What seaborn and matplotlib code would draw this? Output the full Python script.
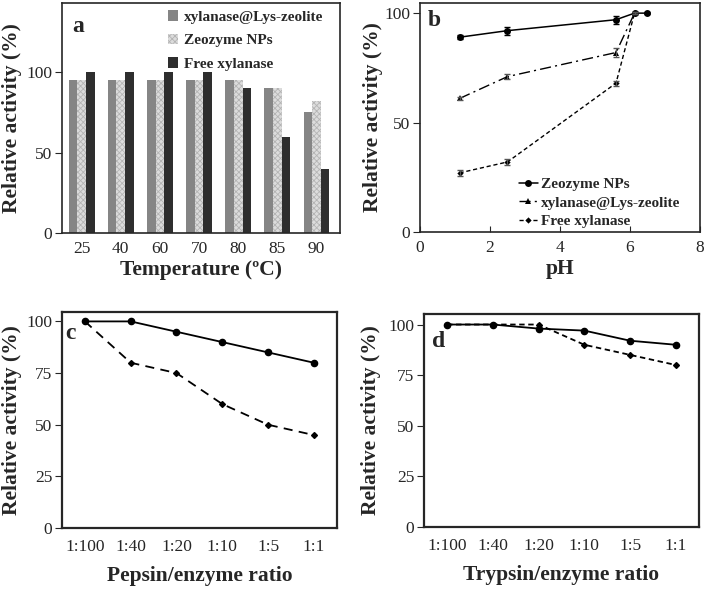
import numpy as np
import pandas as pd
import matplotlib
matplotlib.use("Agg")
import matplotlib.pyplot as plt
import seaborn as sns

# --- datos panel a (temperatura) ---
temps = ["25", "40", "60", "70", "80", "85", "90"]
lys_a = [95, 95, 95, 95, 95, 90, 75]
zeo_a = [95, 95, 95, 95, 95, 90, 82]
free_a = [100, 100, 100, 100, 90, 60, 40]
series_a = ["xylanase@Lys-zeolite", "Zeozyme NPs", "Free xylanase"]

# --- datos panel b (pH) ---
ph_zeo = [1.13, 2.5, 5.6, 6.13, 6.5]
zeo_b = [89, 92, 97, 100, 100]
zeo_b_err = [0.8, 1.8, 1.8, 0.5, 0.5]
ph_lys = [1.13, 2.5, 5.6, 6.13]
lys_b = [61, 71, 82, 100]
lys_b_err = [0.8, 1.0, 2.0, 0.5]
ph_free = [1.13, 2.5, 5.6, 6.13]
free_b = [27, 32, 68, 100]
free_b_err = [1.5, 1.5, 1.2, 0.5]

# --- datos paneles c y d ---
ratios = ["1:100", "1:40", "1:20", "1:10", "1:5", "1:1"]
pep_solid = [100, 100, 95, 90, 85, 80]
pep_dash = [100, 80, 75, 60, 50, 45]
tryp_solid = [100, 100, 98, 97, 92, 90]
tryp_dash = [100, 100, 100, 90, 85, 80]

sns.set_style("ticks")
plt.rcParams["font.family"] = ["Liberation Serif", "DejaVu Serif"]
plt.rcParams["hatch.linewidth"] = 0.6

fig = plt.figure(figsize=(7.08, 5.9), dpi=100)
ax_a = fig.add_axes([0.0876, 0.605, 0.3927, 0.3898])
ax_b = fig.add_axes([0.5932, 0.6068, 0.3955, 0.388])
ax_c = fig.add_axes([0.0876, 0.105, 0.388, 0.366])
ax_d = fig.add_axes([0.599, 0.1068, 0.388, 0.361])

lab_font = dict(fontsize=15.5, fontweight="bold")
tick_fs = 12.5

# ---------------- panel a ----------------
df_a = pd.DataFrame({
    "temp": temps * 3,
    "val": lys_a + zeo_a + free_a,
    "serie": [series_a[0]] * 7 + [series_a[1]] * 7 + [series_a[2]] * 7,
})
sns.barplot(data=df_a, x="temp", y="val", hue="serie", order=temps,
            hue_order=series_a, palette=["#858585", "#dcdcdc", "#2e2e2e"],
            width=0.66, saturation=1, legend=False, ax=ax_a, linewidth=0)
for p in ax_a.containers[1]:
    p.set_hatch("xxxxxx")
    p.set_edgecolor("#b4b4b4")
    p.set_linewidth(0)
ax_a.set_ylim(0, 143)
ax_a.set_xlim(-0.5, 6.6)
ax_a.set_yticks([0, 50, 100])
ax_a.tick_params(axis="x", length=0, labelsize=tick_fs, pad=6)
ax_a.tick_params(axis="y", length=5, labelsize=tick_fs, direction="out", pad=2)
ax_a.set_xlabel("Temperature (ºC)", labelpad=2, **lab_font)
ax_a.set_ylabel("Relative activity (%)", labelpad=3, **lab_font)
ax_a.legend(ax_a.containers, series_a, loc="upper left", bbox_to_anchor=(0.33, 1.03),
            frameon=False, handlelength=0.7, handleheight=0.7, handletextpad=0.4,
            labelspacing=0.65, prop=dict(size=11, weight="bold"))
ax_a.text(0.036, 0.9, "a", transform=ax_a.transAxes, fontsize=17, fontweight="bold", va="center")

# ---------------- panel b ----------------
sns.lineplot(x=ph_zeo, y=zeo_b, ax=ax_b, color="black", marker="o", markersize=5,
             linestyle="-", lw=1.1, label="Zeozyme NPs", markeredgewidth=0)
sns.lineplot(x=ph_lys, y=lys_b, ax=ax_b, color="black", marker="^", markersize=5,
             linestyle=(0, (8, 3, 1.5, 3)), lw=1.0, label="xylanase@Lys-zeolite", markeredgewidth=0)
sns.lineplot(x=ph_free, y=free_b, ax=ax_b, color="black", marker="D", markersize=3.2,
             linestyle=(0, (3, 2)), lw=1.0, label="Free xylanase", markeredgewidth=0)
ax_b.errorbar(ph_zeo, zeo_b, yerr=zeo_b_err, fmt="none", ecolor="black", capsize=2, lw=0.8)
ax_b.errorbar(ph_lys, lys_b, yerr=lys_b_err, fmt="none", ecolor="#555555", capsize=2, lw=0.8)
ax_b.errorbar(ph_free, free_b, yerr=free_b_err, fmt="none", ecolor="#555555", capsize=2, lw=0.8)
ax_b.set_xlim(0, 8)
ax_b.set_ylim(0, 104.6)
ax_b.set_xticks([0, 2, 4, 6, 8])
ax_b.set_yticks([0, 50, 100])
ax_b.tick_params(axis="x", direction="in", length=4, labelsize=tick_fs, pad=6)
ax_b.tick_params(axis="y", direction="out", length=5, labelsize=tick_fs, pad=2)
ax_b.set_xlabel("pH", labelpad=2, **lab_font)
ax_b.set_ylabel("Relative activity (%)", labelpad=1, **lab_font)
ax_b.legend(loc="lower left", bbox_to_anchor=(0.33, -0.01), frameon=False,
            handlelength=1.3, handletextpad=0.2, labelspacing=0.32, borderaxespad=0,
            prop=dict(size=11, weight="bold"))
ax_b.text(0.029, 0.926, "b", transform=ax_b.transAxes, fontsize=17, fontweight="bold", va="center")

# ---------------- paneles c y d ----------------
def panel_ratio(ax, solid, dash, xlabel, letter, dash_style, ymax, lx, ly, ypad):
    sns.pointplot(x=ratios, y=solid, order=ratios, ax=ax, color="black", marker="o",
                  markersize=4.5, linestyle="-", linewidth=1.3, errorbar=None)
    sns.pointplot(x=ratios, y=dash, order=ratios, ax=ax, color="black", marker="D",
                  markersize=3, linestyle=dash_style, linewidth=1.3, errorbar=None)
    ax.set_xlim(-0.5, 5.5)
    ax.set_ylim(0, ymax)
    ax.set_yticks([0, 25, 50, 75, 100])
    ax.tick_params(axis="x", length=0, labelsize=tick_fs, pad=8)
    ax.tick_params(axis="y", direction="out", length=5, labelsize=tick_fs, pad=2)
    ax.set_xlabel(xlabel, labelpad=8, **lab_font)
    ax.set_ylabel("Relative activity (%)", labelpad=ypad, **lab_font)
    for s in ax.spines.values():
        s.set_linewidth(1.6)
    ax.text(lx, ly, letter, transform=ax.transAxes, fontsize=17, fontweight="bold", va="center")

panel_ratio(ax_c, pep_solid, pep_dash, "Pepsin/enzyme ratio", "c", (0, (5, 3.5)), 104.5, 0.01, 0.9, 3)
panel_ratio(ax_d, tryp_solid, tryp_dash, "Trypsin/enzyme ratio", "d", (0, (3, 2)), 105.2, 0.03, 0.87, 5)

for ax in (ax_a, ax_b):
    for s in ax.spines.values():
        s.set_linewidth(1.2)

fig.savefig("out.png", dpi=100)
